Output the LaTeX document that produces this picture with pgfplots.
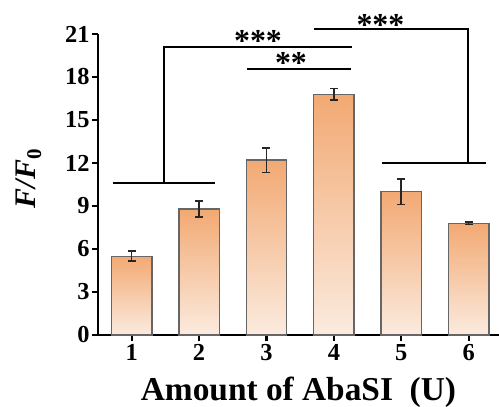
\documentclass[border=0pt]{standalone}
\usepackage{fontspec}
\setmainfont{Liberation Serif}
\usepackage{pgfplots}
\pgfplotsset{compat=1.18}
\definecolor{barTop}{HTML}{F2A973}
\definecolor{barMid}{HTML}{F6C4A8}
\definecolor{barBot}{HTML}{FBEBDF}
\definecolor{barEdge}{HTML}{666666}
\pgfplotsset{
  mybar/.style={ybar, bar width=0.6, bar shift=0pt, draw=barEdge, line width=1.3bp,
    top color=barTop, middle color=barMid, bottom color=barBot,
    error bars/.cd, y dir=both, y explicit,
    error bar style={line width=1.6bp, black!85, solid},
    error mark options={rotate=90, mark size=4bp, line width=1.6bp, black!85}},
}
\begin{document}
\begin{tikzpicture}
\useasboundingbox (0,0) rectangle (499bp,407bp);
\begin{axis}[
  at={(98bp,72bp)}, anchor=south west,
  scale only axis, width=401bp, height=301bp,
  xmin=0.5, xmax=6.45, ymin=0, ymax=21,
  axis x line=bottom, axis y line=left,
  axis line style={-, line width=2.6bp, black},
  xtick={1,2,3,4,5,6}, ytick={0,3,6,9,12,15,18,21},
  tick align=outside, major tick length=6bp,
  tick style={line width=2.2bp, black},
  /pgf/number format/assume math mode=true,
  ticklabel style={font=\fontsize{24.5}{26}\selectfont\bfseries},
  yticklabel style={xshift=1bp},
  xlabel={Amount of AbaSI~~(U)},
  xlabel style={font=\fontsize{33.5}{36}\selectfont\bfseries, at={(axis description cs:0.5,-0.217)}, anchor=base},
  ylabel={\textbf{\textit{F/F}\textsubscript{0}}},
  ylabel style={font=\fontsize{30}{32}\selectfont\bfseries, at={(axis description cs:-0.155,0.52)}, anchor=base},
  clip=false,
]
\addplot[mybar] coordinates {(1,5.5) +- (0,0.35)};
\addplot[mybar] coordinates {(2,8.8) +- (0,0.55)};
\addplot[mybar] coordinates {(3,12.2) +- (0,0.85)};
\addplot[mybar] coordinates {(4,16.8) +- (0,0.4)};
\addplot[mybar] coordinates {(5,10.0) +- (0,0.9)};
\addplot[mybar] coordinates {(6,7.8) +- (0,0.08)};

\draw[line width=2.2bp] (axis cs:0.718,10.59) -- (axis cs:2.236,10.59);
\draw[line width=2.2bp] (axis cs:1.475,10.59) -- (axis cs:1.475,20.12) -- (axis cs:4.264,20.12);
\draw[line width=2.2bp] (axis cs:2.706,18.54) -- (axis cs:4.254,18.54);
\draw[line width=2.2bp] (axis cs:3.71,21.33) -- (axis cs:5.99,21.33) -- (axis cs:5.99,12.02);
\draw[line width=2.2bp] (axis cs:4.72,12.02) -- (axis cs:6.25,12.02);
\node[font=\fontsize{32}{32}\selectfont\bfseries, anchor=base, inner sep=0pt] at (axis cs:2.874,19.80) {***};
\node[font=\fontsize{32}{32}\selectfont\bfseries, anchor=base, inner sep=0pt] at (axis cs:3.363,18.27) {**};
\node[font=\fontsize{32}{32}\selectfont\bfseries, anchor=base, inner sep=0pt] at (axis cs:4.691,20.92) {***};
\end{axis}
\end{tikzpicture}
\end{document}
